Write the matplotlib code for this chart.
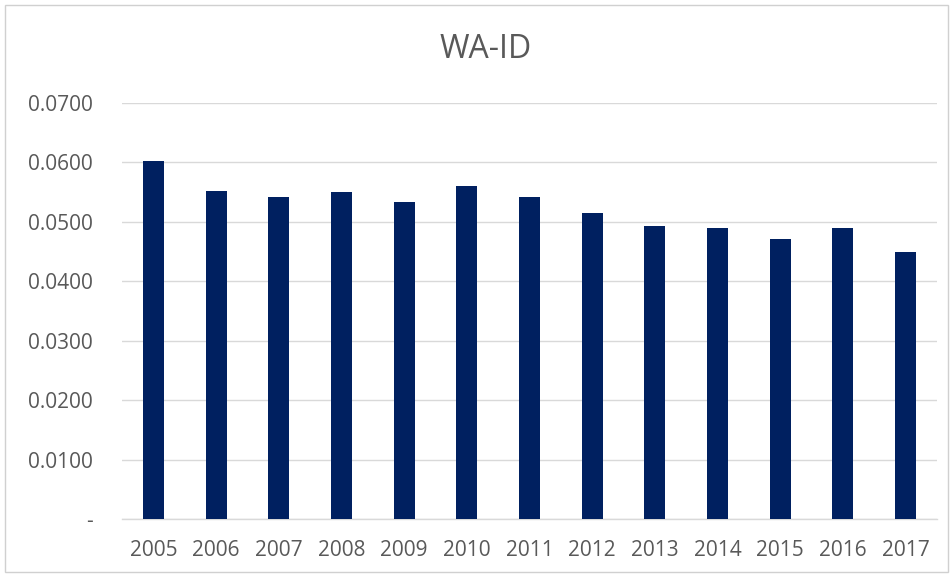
import matplotlib
matplotlib.use("Agg")
import matplotlib.pyplot as plt
from matplotlib.patches import Rectangle

years = ["2005", "2006", "2007", "2008", "2009", "2010", "2011",
         "2012", "2013", "2014", "2015", "2016", "2017"]
values = [0.0603, 0.0552, 0.0542, 0.0550, 0.0534, 0.0560, 0.0542,
          0.0515, 0.0493, 0.0490, 0.0471, 0.0490, 0.0449]
y_ticks = [0.0, 0.01, 0.02, 0.03, 0.04, 0.05, 0.06, 0.07]
y_labels = ["-", "0.0100", "0.0200", "0.0300", "0.0400", "0.0500", "0.0600", "0.0700"]
title = "WA-ID"

plt.rcParams['font.family'] = ['Open Sans', 'DejaVu Sans']
text_color = "#595959"
grid_color = "#D9D9D9"

fig = plt.figure(figsize=(9.53, 5.77), dpi=100)
fig.patches.append(Rectangle((5 / 953, 5 / 577), 943 / 953, 567 / 577,
                             transform=fig.transFigure, fill=False,
                             edgecolor="#D0D0D0", linewidth=1))

ax = fig.add_axes([122 / 953, 1 - 519 / 577, (937 - 122) / 953, (519 - 103) / 577])
x = list(range(len(years)))
ax.bar(x, values, width=0.335, color="#002060", zorder=3)

ax.set_xlim(-0.5, len(years) - 0.5)
ax.set_ylim(0, 0.07)
ax.set_yticks(y_ticks)
ax.set_yticklabels(y_labels)
ax.set_xticks(x)
ax.set_xticklabels(years)

ax.grid(axis="y", color=grid_color, linewidth=1, zorder=0)
for s in ["left", "right", "top"]:
    ax.spines[s].set_visible(False)
ax.spines["bottom"].set_color(grid_color)
ax.spines["bottom"].set_linewidth(1)

ax.tick_params(axis="both", length=0, colors=text_color, labelsize=15)
ax.tick_params(axis="y", pad=21)
ax.tick_params(axis="x", pad=15)

fig.text(486 / 953, 1 - 50 / 577, title, ha="center", va="center",
         fontsize=23, color=text_color)

fig.savefig("out.png", dpi=100)
